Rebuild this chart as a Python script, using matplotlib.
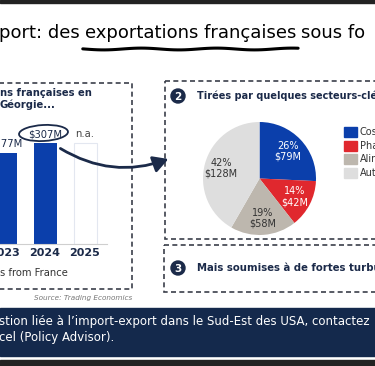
import numpy as np
import matplotlib
matplotlib.use("Agg")
import matplotlib.pyplot as plt
from matplotlib.patches import Rectangle, Ellipse, Circle, FancyArrowPatch

# data
years = ["2023", "2024", "2025"]
exports = [277, 307, np.nan]          # $M, 2025 not available
bar_labels = ["$277M", "$307M", "n.a."]

sectors = ["Cosmétiques", "Pharmaceutique", "Alimentaire", "Autres"]
sector_values = [79, 42, 58, 128]     # $M
sector_colors = ["#0b3fab", "#e0282e", "#bdb7ae", "#dedede"]

NAVY = "#1b2a49"
W, H = 375, 366
plt.rcParams["font.family"] = ["DejaVu Sans"]


def px_box(x0, y0, x1, y1):
    return [x0 / W, 1 - y1 / H, (x1 - x0) / W, (y1 - y0) / H]


fig = plt.figure(figsize=(W / 100, H / 100), dpi=100)
fig.patch.set_facecolor("white")
renderer = fig.canvas.get_renderer()

# background layer in pixel coordinates
bg = fig.add_axes([0, 0, 1, 1], zorder=0)
bg.set_xlim(0, W)
bg.set_ylim(H, 0)
bg.axis("off")

bg.add_patch(Rectangle((0, 0), W, 3, color="#222222"))
bg.add_patch(Rectangle((0, 308), W, 48, color="#14294c"))
bg.add_patch(Rectangle((0, 360), W, 6, color="#222222"))

# title with wavy underline under "exportations françaises"
title_parts = ["port: des", "exportations françaises", "sous fo"]
tx = -1
spans = []
for part in title_parts:
    t = bg.text(tx, 33, part, fontsize=13, ha="left", va="center", color="black")
    bb = t.get_window_extent(renderer)
    spans.append((bb.x0, bb.x1))
    tx = bb.x1 + 5
u0, u1 = spans[1]
wx = np.linspace(u0 - 2, u1 + 2, 60)
bg.plot(wx, 49 + 0.9 * np.sin((wx - u0) / 12), color="black", lw=2.2,
        solid_capstyle="round")

# dashed panels
dash = (0, (3, 2))
for x0, y0, x1, y1 in [(-10, 83, 132, 289), (165, 81, 395, 239), (164, 245, 395, 292)]:
    bg.add_patch(Rectangle((x0, y0), x1 - x0, y1 - y0, fill=False,
                           ec="#3b3f4a", lw=1.2, ls=dash))

# left panel texts
bg.text(0, 93, "ns françaises en", fontsize=7.2, fontweight="bold",
        color=NAVY, ha="left", va="center")
bg.text(0, 105, "Géorgie...", fontsize=7.2, fontweight="bold",
        color=NAVY, ha="left", va="center")
bg.text(0, 273, "s from France", fontsize=7.2, color="#333333",
        ha="left", va="center")
bg.text(132, 298, "Source: Trading Economics", fontsize=5.2, style="italic",
        color="#777777", ha="right", va="center")

# numbered headers
for cy, num, size, label in [(96, "2", 7.0, "Tirées par quelques secteurs-clés"),
                             (268, "3", 7.3, "Mais soumises à de fortes turbulences")]:
    bg.add_patch(Circle((178, cy), 7, color=NAVY))
    bg.text(178, cy + 0.5, num, fontsize=7.5, fontweight="bold", color="white",
            ha="center", va="center")
    bg.text(197, cy, label, fontsize=size, fontweight="bold", color=NAVY,
            ha="left", va="center")

# bottom banner text
bg.text(-1, 321, "stion liée à l’import-export dans le Sud-Est des USA, contactez",
        fontsize=8.5, color="white", ha="left", va="center")
bg.text(-1, 337, "cel (Policy Advisor).", fontsize=8.5, color="white",
        ha="left", va="center")

# bar chart
ymax = 380
top_px = 244 - 101 * ymax / 307
ax = fig.add_axes(px_box(-35, top_px, 107, 244), zorder=1)
ax.patch.set_alpha(0)
x = np.arange(len(years))
ax.bar(x, exports, width=0.575, color="#0b3fab")
placeholder = np.nanmax(exports)
ax.bar(x[2], placeholder, width=0.575, facecolor="none", edgecolor="#e3e7f0", lw=0.8)
for xi, v, lab in zip(x, exports, bar_labels):
    h = placeholder if np.isnan(v) else v
    ax.text(xi, h + 12, lab, ha="center", va="bottom", fontsize=7.2,
            color="#444444" if np.isnan(v) else NAVY)
ax.set_xlim(-1.0, 2.55)
ax.set_ylim(0, ymax)
ax.set_xticks(x)
ax.set_xticklabels(years, fontsize=8, fontweight="bold", color=NAVY)
ax.tick_params(axis="x", length=0, pad=3)
ax.set_yticks([])
for s in ["top", "right", "left"]:
    ax.spines[s].set_visible(False)
ax.spines["bottom"].set_color("#cfcfcf")

# pie chart
cx, cy, r = 259.5, 178.5, 56.5
pax = fig.add_axes(px_box(cx - r, cy - r, cx + r, cy + r), zorder=1)
total = sum(sector_values)
wedges, texts, autotexts = pax.pie(
    sector_values, colors=sector_colors, startangle=90, counterclock=False,
    autopct=lambda p: f"{p:.0f}%\n${p * total / 100:.0f}M", pctdistance=0.7,
    textprops=dict(fontsize=7, ha="center", va="center"))
for t, c in zip(autotexts, ["white", "white", "#333333", "#333333"]):
    t.set_color(c)
    t.set_linespacing(1.1)
pax.set_xlim(-1, 1)
pax.set_ylim(-1, 1)

# legend
for i, (name, col) in enumerate(zip(sectors, sector_colors)):
    y = 132 + i * 13.7
    bg.add_patch(Rectangle((344, y - 5), 13, 10, color=col))
    bg.text(360, y, name, fontsize=7, color="#333333", ha="left", va="center")

# overlay: circle around 2024 value and arrow
top = fig.add_axes([0, 0, 1, 1], zorder=2)
top.set_xlim(0, W)
top.set_ylim(H, 0)
top.axis("off")
top.add_patch(Ellipse((43.5, 133), 49, 16, angle=-3, fill=False, ec=NAVY, lw=1.3))
top.add_patch(FancyArrowPatch((58, 147), (171, 158), connectionstyle="arc3,rad=0.25",
                              arrowstyle="-|>,head_length=9,head_width=5",
                              color=NAVY, lw=2, mutation_scale=1))

fig.savefig("out.png", dpi=100)
